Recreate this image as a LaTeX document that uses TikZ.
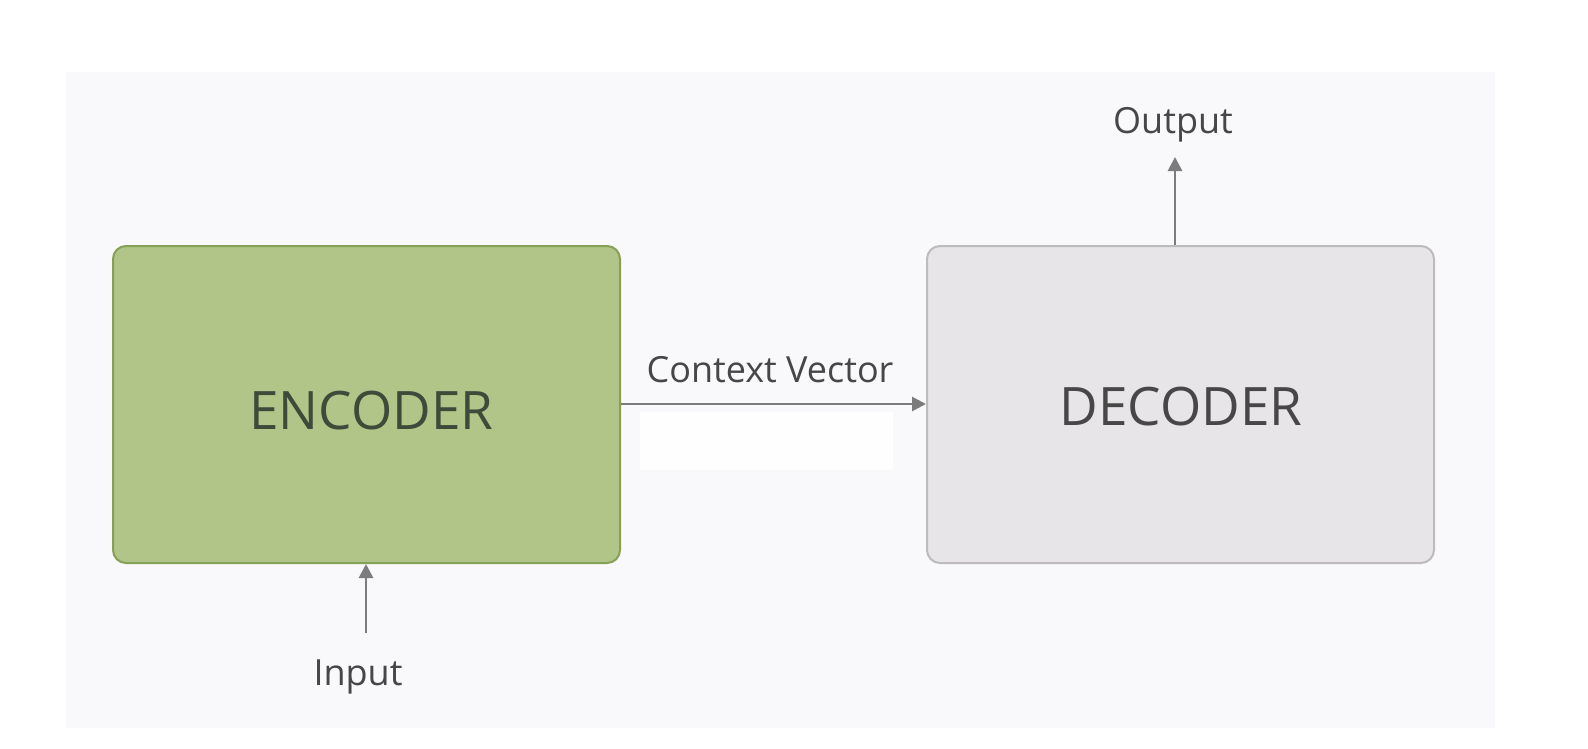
\documentclass[tikz,border=0pt]{standalone}
\usepackage{fontspec}
\setmainfont{Open Sans}
\usetikzlibrary{arrows.meta}
\definecolor{panel}{HTML}{F9F9FB}
\definecolor{softwhite}{HTML}{FEFEFE}
\definecolor{encfill}{HTML}{B1C588}
\definecolor{encdraw}{HTML}{86A055}
\definecolor{decfill}{HTML}{E8E5E8}
\definecolor{decdraw}{HTML}{BDBBBE}
\definecolor{arr}{HTML}{7C7C7C}
\definecolor{txt}{HTML}{474747}
\definecolor{enctxt}{HTML}{3E4A3A}
\tikzset{
  box/.style={draw, line width=2pt, rounded corners=13pt, minimum width=507pt, minimum height=317pt, inner sep=0pt},
  boxtext/.style={font=\fontsize{53}{60}\selectfont, anchor=base, inner sep=0pt},
  lbl/.style={font=\fontsize{36}{42}\selectfont, text=txt, anchor=base, inner sep=0pt},
  conn/.style={draw=arr, line width=2.8pt, -{Triangle[length=14pt,width=14pt]}}
}
\begin{document}
\begin{tikzpicture}[x=1pt,y=-1pt]
\useasboundingbox (0,0) rectangle (1588,748);
\fill[white] (0,0) rectangle (1588,748);
\fill[panel] (66,72) rectangle (1495,728);
\fill[softwhite] (640,412) rectangle (893,470);
\node[box, draw=encdraw, fill=encfill] (enc) at (366.5,404.5) {};
\node[boxtext, text=enctxt] at (371.5,429) {ENCODER};
\node[box, draw=decdraw, fill=decfill] (dec) at (1180.5,404.5) {};
\node[boxtext, text=txt] at (1181,425) {DECODER};
\node[lbl] (ctx) at (770,382) {Context Vector};
\node[lbl] (out) at (1173,133) {Output};
\node[lbl] (in) at (358,685) {Input};
\coordinate (outtip) at (1175,157);
\coordinate (inbase) at (366,633);
\draw[conn] (enc.east |- 0,404) -- (dec.west |- 0,404);
\draw[conn] (dec.north -| outtip) -- (outtip);
\draw[conn] (inbase) -- (enc.south -| inbase);
\end{tikzpicture}
\end{document}
